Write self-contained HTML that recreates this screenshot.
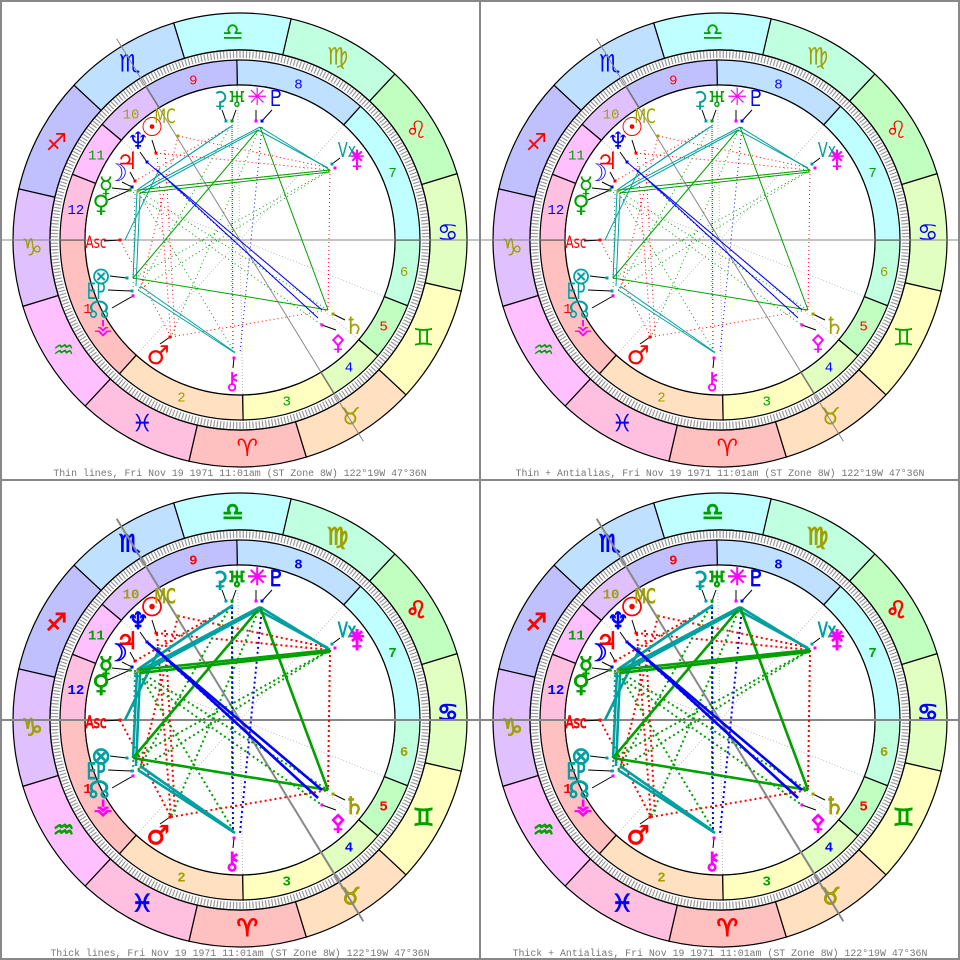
<!DOCTYPE html>
<html><head><meta charset="utf-8"><style>
html,body{margin:0;padding:0;background:#fff}
svg{display:block}
</style></head><body>
<svg id="s" width="960" height="960" viewBox="0 0 960 960" xmlns="http://www.w3.org/2000/svg"></svg>
<script>
const S=document.getElementById('s');
const ASC=283;
const SANS='font-family:\'DejaVu Sans\',\'Liberation Sans\',sans-serif';
const MONO='font-family:\'Liberation Mono\',\'DejaVu Sans Mono\',monospace';
function P(phi,r){const a=phi*Math.PI/180;return [240+r*Math.cos(a),240-r*Math.sin(a)];}
function sector(r1,r2,a1,a2){
 let span=((a2-a1)%360+360)%360;const la=span>180?1:0;
 const p1=P(a1,r2),p2=P(a2,r2),p3=P(a2,r1),p4=P(a1,r1);
 return `M${p1[0]},${p1[1]}A${r2},${r2} 0 ${la} 0 ${p2[0]},${p2[1]}L${p3[0]},${p3[1]}A${r1},${r1} 0 ${la} 1 ${p4[0]},${p4[1]}Z`;
}
const fills=['#ffc0c0','#ffe0c0','#ffffc0','#e0ffc0','#c0ffc0','#c0ffe0','#c0ffff','#c0e0ff','#c0c0ff','#e0c0ff','#ffc0ff','#ffc0e0'];
const elc=['#ff0000','#a0a000','#00a000','#0000ff'];
const signs=['♈','♉','♊','♋','♌','♍','♎','♏','♐','♑','♒','♓'];
const cusps=[180,228,271,301.5,320,338.6,0,48,91,121.5,140,158.6];
const teal='#00a0a0';
const glyphs=[
['☉',152,128,'#ff0000',26],['MC',165,116,'#a0a000',17],['♆',138,141,'#0000ff',24],['♃',127,161,'#ff0000',24],
['☽',117,173,'#0000ff',24],['☿',106,186,'#00a000',24],['♀',101,204,'#00a000',24],['Asc',96,241,'#ff0000',15],
['⊗',101,276,teal,24],['EP',96,292,teal,19],['☊',99,310,teal,24],['⚶',103,326,'#ff00ff',22],
['♂',158,356,'#ff0000',26],['⚷',232,381,'#ff00ff',24],['⚴',338,342,'#ff00ff',22],['♄',354,326,'#a0a000',24],
['Vx',347,150,teal,18],['⚵',357,159,'#ff00ff',24],['⚳',220,99,teal,22],['♅',237,99,'#00a000',22],
['✳',257,97,'#ff00ff',24],['♇',276,98,'#0000ff',22]];
const dots=[[226,121,teal],[232,121,'#00a000'],[256,121,'#ff00ff'],[262,121,'#0000ff'],[332,164,teal],[335,168,'#ff00ff'],
[333,314,'#a0a000'],[322,325,'#ff00ff'],[234,358,'#ff00ff'],[170,337,'#ff0000'],[127,278,teal],[132,291,teal],[133,296,'#ff00ff'],
[120,240,'#ff0000'],[156,153,'#ff0000'],[147,162,'#0000ff'],[135,181,'#ff0000'],[132,187,'#0000ff'],[130,190,'#00a000'],[138,191,'#a0a000'],[178,136,'#a0a000']];
const solid=[
[teal,137,190,230,127],[teal,140,188,233,125],[teal,137,192,260,127],[teal,139,194,258,130],[teal,260,127,330,170],[teal,258,130,328,168],
[teal,138,290,235,353],[teal,140,286,233,351],[teal,137,192,133,278],[teal,140,195,136,286],[teal,125,240,160,168],
['#00a000',137,190,330,170],['#00a000',140,193,330,172],['#00a000',260,127,328,310],['#00a000',133,278,328,310],['#00a000',133,278,258,130],
['#0000ff',148,163,322,310],['#0000ff',157,170,318,318]];
const dotted=[
['#ff0000',137,190,330,170],['#ff0000',178,136,330,168],['#ff0000',171,337,328,310],['#ff0000',330,170,328,310],['#ff0000',157,154,171,337],
['#ff0000',165,150,175,335],['#ff0000',120,240,171,337],['#ff0000',135,181,230,127],['#ff0000',178,136,140,290],['#ff0000',156,153,330,170],
['#00a000',137,190,328,310],['#00a000',133,278,330,170],['#00a000',137,190,235,353],['#00a000',260,127,171,337],['#00a000',230,127,138,290],
['#00a000',138,290,330,170],['#00a000',130,190,322,325],['#00a000',232,121,232,300],
['#0000ff',232,127,233,353],['#0000ff',262,127,240,353],['#0000ff',148,163,318,318],[teal,135,190,133,296]];
const ptrs=[[152,140,156,153],[140,152,147,162],[130,172,135,181],[122,182,132,187],[112,188,130,190],[108,200,130,190],[104,241,120,240],
[110,276,127,278],[108,290,132,291],[112,308,133,296],[160,344,170,337],[233,368,234,358],[336,330,322,325],[345,320,333,314],[340,158,332,164],
[222,110,226,121],[236,110,232,121],[256,110,256,121],[272,110,262,121]];
function panel(ox,oy,thick,label){
 let h=`<g transform="translate(${ox},${oy})">`;
 for(let i=0;i<12;i++){const a1=180+30*i-ASC;h+=`<path d="${sector(190,227,a1,a1+30)}" fill="${fills[i]}" stroke="#000" stroke-width="1.2"/>`;
  const m=P(a1+15,208);h+=`<text x="${m[0]}" y="${m[1]+8}" style="${SANS};font-size:24px" text-anchor="middle" fill="${elc[i%4]}"${thick?` stroke="${elc[i%4]}" stroke-width="1"`:''}>${signs[i]}</text>`;}
 h+=`<circle cx="240" cy="240" r="185" fill="#fff" stroke="none"/>`;
 let t='';for(let d=0;d<360;d++){const a=d-ASC;const p=P(a,182),q=P(a,189);t+=`M${p[0].toFixed(1)},${p[1].toFixed(1)}L${q[0].toFixed(1)},${q[1].toFixed(1)}`;}
 h+=`<path d="${t}" stroke="#999" stroke-width="1.2"/>`;
 for(let i=0;i<12;i++){const a1=cusps[i],a2=cusps[(i+1)%12];h+=`<path d="${sector(155,180,a1,a2)}" fill="${fills[i]}" stroke="#000" stroke-width="1.2"/>`;
  let sp=((a2-a1)%360+360)%360;const m=P(a1+sp/2,167);h+=`<text x="${m[0]}" y="${m[1]+5}" style="${MONO};font-size:14px${thick?';font-weight:bold':''}" text-anchor="middle" fill="${elc[i%4]}">${i+1}</text>`;}
 h+=`<circle cx="240" cy="240" r="190" fill="none" stroke="#000" stroke-width="1.2"/><circle cx="240" cy="240" r="155" fill="#fff" stroke="#000" stroke-width="1.2"/>`;
 for(let i=0;i<12;i++){if(i%3==0)continue;const p=P(cusps[i],155);h+=`<line x1="240" y1="240" x2="${p[0]}" y2="${p[1]}" stroke="#bbb" stroke-dasharray="1 2"/>`;}
 h+=`<line x1="0" y1="240" x2="480" y2="240" stroke="#888" stroke-width="${thick?2:1}"/>`;
 const m1=P(121.5,236),m2=P(301.5,236);h+=`<line x1="${m1[0]}" y1="${m1[1]}" x2="${m2[0]}" y2="${m2[1]}" stroke="#888" stroke-width="${thick?2:1}"/>`;
 const dw=thick?2:1,sw=thick?2.6:1;
 dotted.forEach(l=>{h+=`<line x1="${l[1]}" y1="${l[2]}" x2="${l[3]}" y2="${l[4]}" stroke="${l[0]}" stroke-width="${dw}" stroke-dasharray="${thick?'2 3':'1 3'}"/>`;});
 solid.forEach(l=>{h+=`<line x1="${l[1]}" y1="${l[2]}" x2="${l[3]}" y2="${l[4]}" stroke="${l[0]}" stroke-width="${sw}"/>`;});
 ptrs.forEach(l=>{h+=`<line x1="${l[0]}" y1="${l[1]}" x2="${l[2]}" y2="${l[3]}" stroke="#000" stroke-width="1"/>`;});
 dots.forEach(d=>{h+=`<rect x="${d[0]-1.5}" y="${d[1]-1.5}" width="3" height="3" fill="${d[2]}"/>`;});
 glyphs.forEach(g=>{const isT=g[0].length>1;
  const st=`${SANS};font-size:${g[4]}px`;
  const tr=isT?` transform="translate(${g[1]},${g[2]+7}) scale(0.8,1.15)"`:'';
  const x=isT?0:g[1],y=isT?0:g[2]+8;
  h+=`<text x="${x}" y="${y}"${tr} style="${st}" text-anchor="middle" fill="${g[3]}"${thick?` stroke="${g[3]}" stroke-width="0.8"`:''}>${g[0]}</text>`;});
 h+=`<text x="240" y="476" style="${MONO};font-size:9.9px" text-anchor="middle" fill="#777">${label}, Fri Nov 19 1971 11:01am (ST Zone 8W) 122°19W 47°36N</text>`;
 h+='</g>';return h;
}
let out='';
out+=panel(0,0,false,'Thin lines');
out+=panel(480,0,false,'Thin + Antialias');
out+=panel(0,480,true,'Thick lines');
out+=panel(480,480,true,'Thick + Antialias');
out+=`<rect x="1" y="1" width="958" height="958" fill="none" stroke="#888" stroke-width="2"/>`;
out+=`<line x1="480" y1="0" x2="480" y2="960" stroke="#888" stroke-width="2"/><line x1="0" y1="480" x2="960" y2="480" stroke="#888" stroke-width="2"/>`;
S.innerHTML=out;
</script>
</body></html>
